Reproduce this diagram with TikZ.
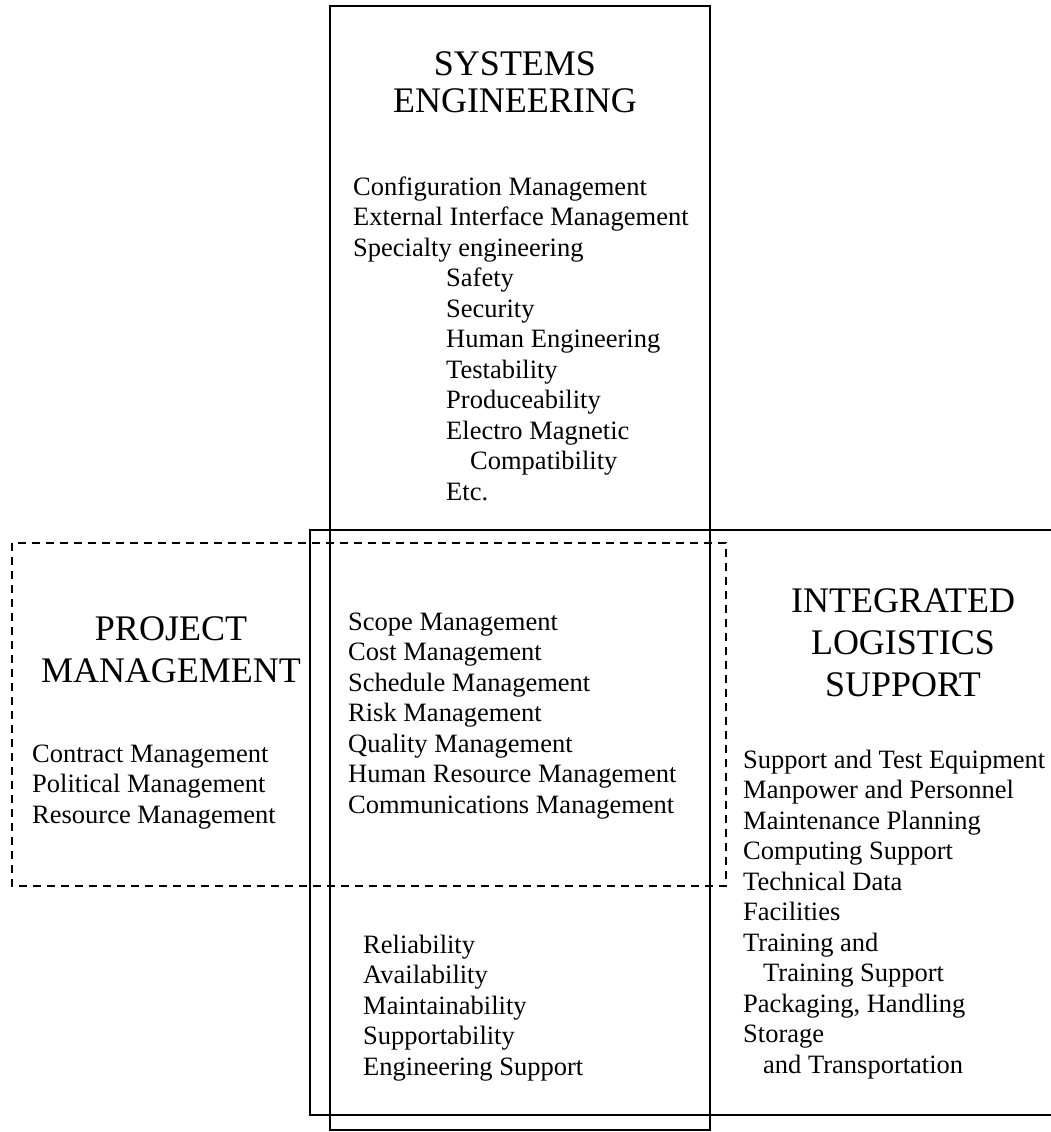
\documentclass[tikz,border=0pt]{standalone}
\usepackage{fontspec}
\setmainfont{Liberation Serif}
\usepackage{tikz}
\tikzstyle{head}=[anchor=base,inner sep=0pt,font=\fontsize{36}{42}\selectfont]
\tikzstyle{item}=[anchor=base west,inner sep=0pt,font=\fontsize{26.5}{30.5}\selectfont]
\tikzstyle{box}=[draw,line width=2pt]
\tikzstyle{dbox}=[draw,line width=2pt,dash pattern=on 8pt off 6pt]
\newcommand{\col}[2]{\begin{tabular}[t]{@{}#1@{}}#2\end{tabular}}

\begin{document}
\begin{tikzpicture}[x=1pt,y=-1pt]
        \useasboundingbox (0,0) rectangle (1050,1132);
        % boxes
        \draw[box] (330,6) rectangle (710,1130);
        \draw[box] (1052,530) -- (310,530) -- (310,1115) -- (1052,1115);
        \draw[dbox] (12,543) rectangle (726,886);
        % systems engineering
        \node[head] (sehead) at (515,75) {\col{c}{SYSTEMS\\[-5pt]ENGINEERING}};
        \node[item] (selist) at (353,195) {\col{l}{Configuration Management\\
            External Interface Management\\Specialty engineering\\
            \hspace*{93pt}Safety\\\hspace*{93pt}Security\\
            \hspace*{93pt}Human Engineering\\\hspace*{93pt}Testability\\
            \hspace*{93pt}Produceability\\\hspace*{93pt}Electro Magnetic\\
            \hspace*{117pt}Compatibility\\\hspace*{93pt}Etc.}};
        % project management
        \node[head] (pmhead) at (171,640) {\col{c}{PROJECT\\MANAGEMENT}};
        \node[item] (pmlist) at (32,762) {\col{l}{Contract Management\\
            Political Management\\Resource Management}};
        \node[item] (common) at (348,630) {\col{l}{Scope Management\\Cost Management\\
            Schedule Management\\Risk Management\\Quality Management\\
            Human Resource Management\\Communications Management}};
        % integrated logistics support
        \node[head] (ilshead) at (903,612) {\col{c}{INTEGRATED\\LOGISTICS\\SUPPORT}};
        \node[item] (ilslist) at (743,768) {\col{l}{Support and Test Equipment\\
            Manpower and Personnel\\Maintenance Planning\\Computing Support\\
            Technical Data\\Facilities\\Training and\\
            \hspace*{20pt}Training Support\\Packaging, Handling\\Storage\\
            \hspace*{20pt}and Transportation}};
        \node[item] (ramlist) at (363,953) {\col{l}{Reliability\\Availability\\
            Maintainability\\Supportability\\Engineering Support}};
      \end{tikzpicture}
\end{document}
